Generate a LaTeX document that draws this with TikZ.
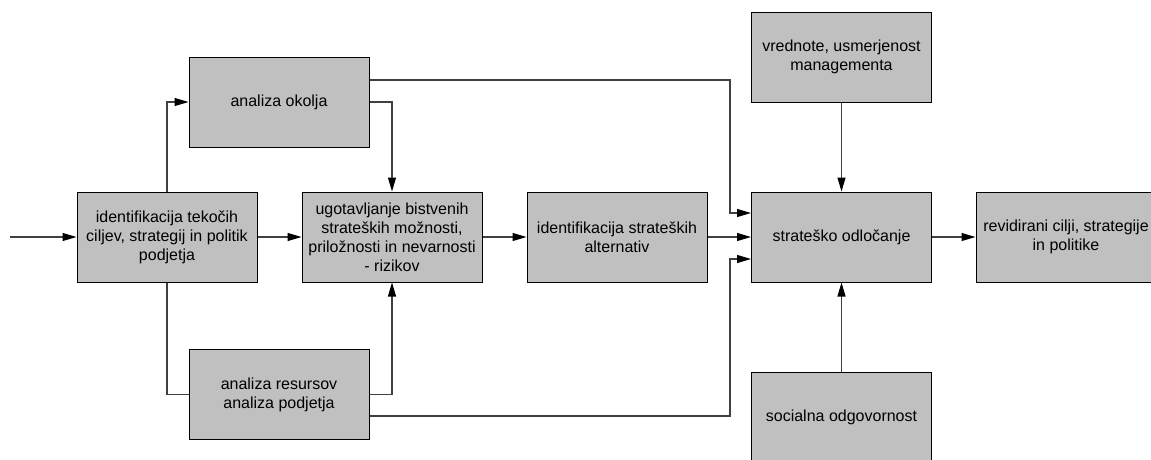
\documentclass[tikz,border=0pt]{standalone}
\usepackage{fontspec}
\setmainfont{Liberation Sans}
\usetikzlibrary{arrows.meta}
\definecolor{boxfill}{RGB}{192,192,192}
\definecolor{wire}{RGB}{64,64,64}
\begin{document}
\begin{tikzpicture}[x=1pt,y=-1pt,
  box/.style={draw=black,line width=1pt,fill=boxfill,rectangle,
    minimum width=180pt,minimum height=90pt,inner sep=2pt,align=center,
    font=\fontsize{16}{19}\selectfont},
  ln/.style={draw=wire,line width=1.1pt},
  arr/.style={ln,-{Triangle[length=14pt,width=8pt,fill=black,color=black]}}]
\useasboundingbox (0,0) rectangle (1151,459);
\clip (0,0) rectangle (1151,459);

% process boxes
\node[box] (L) at (167,237) {identifikacija tekočih\\ciljev, strategij in politik\\podjetja};
\node[box] (O) at (279,102) {analiza okolja};
\node[box] (R) at (279,394.5) {analiza resursov\\analiza podjetja};
\node[box] (M) at (392,237) {ugotavljanje bistvenih\\strateških možnosti,\\priložnosti in nevarnosti\\- rizikov};
\node[box] (A) at (617,237) {identifikacija strateških\\alternativ};
\node[box] (S) at (841.5,237) {strateško odločanje};
\node[box] (V) at (841.5,57) {vrednote, usmerjenost\\managementa};
\node[box] (C) at (841.5,417) {socialna odgovornost};
\node[box] (Q) at (1066,237) {revidirani cilji, strategije\\in politike};

% helpers
\coordinate (in) at (10,237);
\coordinate (bus) at (730,0);

% connectors
\draw[arr] (in) -- (L);
\draw[arr] (L.north) |- (O.west);
\draw[ln] (L.south) |- (R.west);
\draw[arr] (L) -- (M);
\draw[arr] (O.east) -| (M.north);
\draw[arr] (R.east) -| (M.south);
\draw[arr] (M) -- (A);
\draw[arr] ([yshift=22pt]O.east) -- ([yshift=22pt]O.east -| bus) |- ([yshift=24pt]S.west);
\draw[arr] ([yshift=-21.5pt]R.east) -- ([yshift=-21.5pt]R.east -| bus) |- ([yshift=-22pt]S.west);
\draw[arr] (A) -- (S);
\draw[arr] (V) -- (S);
\draw[arr] (C) -- (S);
\draw[arr] (S) -- (Q);
\end{tikzpicture}
\end{document}
